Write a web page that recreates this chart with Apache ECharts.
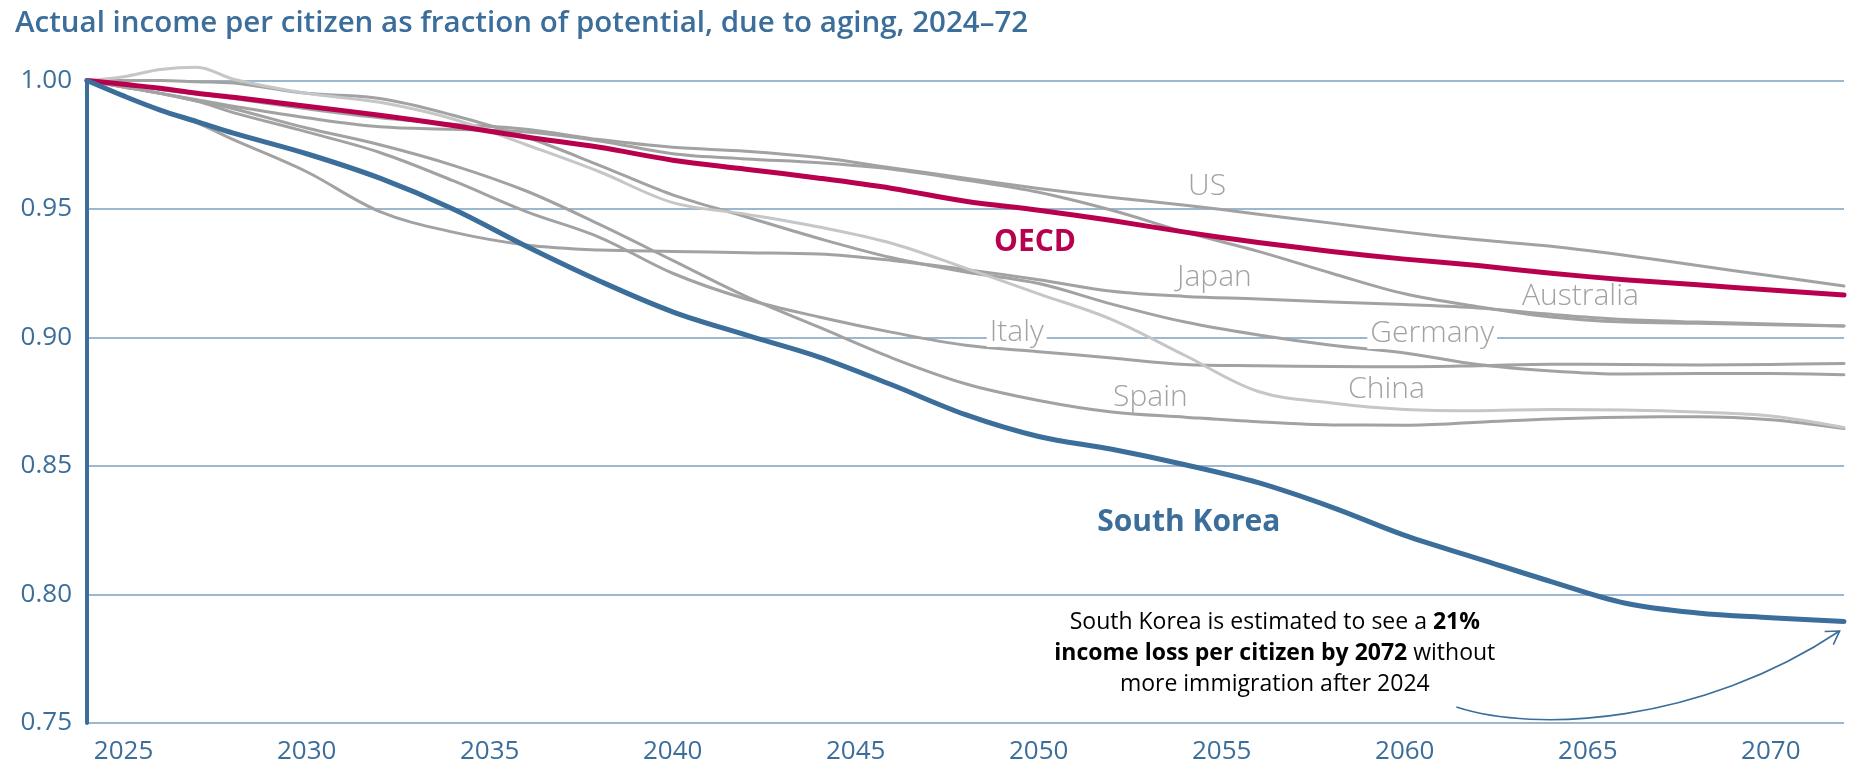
<!DOCTYPE html>
<html><head><meta charset="utf-8">
<script src="https://cdn.jsdelivr.net/npm/echarts@6/dist/echarts.min.js"></script>
<style>html,body{margin:0;padding:0;background:#fff}#c{width:1862px;height:780px}</style>
</head><body><div id="c"></div>
<script>
// ---- data ----
const years = [2024,2025,2026,2027,2028,2030,2032,2034,2036,2038,2040,2042,2044,2046,2048,2050,2052,2054,2056,2058,2060,2062,2064,2066,2068,2070,2072];
const southKorea = [1.000,0.994,0.9885,0.984,0.9795,0.9715,0.962,0.950,0.9355,0.922,0.910,0.901,0.8924,0.8815,0.870,0.8615,0.8565,0.8505,0.8435,0.834,0.823,0.814,0.805,0.7967,0.7928,0.791,0.7895];
const oecd = [1.000,0.9985,0.997,0.995,0.9935,0.990,0.9865,0.9825,0.978,0.974,0.969,0.9655,0.962,0.958,0.953,0.9495,0.9455,0.941,0.937,0.9335,0.9305,0.928,0.925,0.9225,0.9205,0.9185,0.9165];
const us = [1.000,0.9985,0.9965,0.9948,0.993,0.989,0.9855,0.983,0.981,0.977,0.974,0.9725,0.970,0.966,0.962,0.958,0.9545,0.9515,0.948,0.9445,0.941,0.938,0.9355,0.932,0.928,0.924,0.920];
const australia = [1.000,0.9975,0.995,0.9925,0.990,0.9855,0.982,0.981,0.980,0.9765,0.9715,0.9695,0.968,0.9655,0.9613,0.9565,0.9495,0.941,0.9335,0.925,0.917,0.912,0.908,0.906,0.9055,0.905,0.9045];
const japan = [1.000,0.994,0.9885,0.9835,0.977,0.9645,0.949,0.941,0.936,0.934,0.9335,0.933,0.9325,0.930,0.9265,0.9225,0.918,0.916,0.915,0.9138,0.9128,0.9115,0.909,0.907,0.906,0.9053,0.9045];
const germany = [1.000,1.000,1.000,0.9995,0.999,0.995,0.993,0.9865,0.978,0.967,0.9555,0.947,0.9385,0.931,0.9255,0.921,0.913,0.906,0.901,0.897,0.894,0.8895,0.887,0.8858,0.886,0.886,0.8855];
const italy = [1.000,0.9975,0.995,0.992,0.9875,0.980,0.972,0.961,0.949,0.939,0.925,0.915,0.908,0.902,0.897,0.8945,0.892,0.8895,0.889,0.8887,0.8886,0.889,0.8896,0.8895,0.8893,0.8895,0.8899];
const spain = [1.000,0.9975,0.995,0.992,0.989,0.9815,0.975,0.967,0.957,0.944,0.930,0.916,0.904,0.892,0.882,0.8755,0.871,0.869,0.8672,0.866,0.8659,0.867,0.8683,0.869,0.8692,0.868,0.8646];
const china = [1.000,1.0015,1.0043,1.0052,1.0005,0.995,0.9915,0.985,0.975,0.9645,0.9525,0.948,0.943,0.9366,0.927,0.917,0.907,0.893,0.879,0.8745,0.872,0.8715,0.872,0.8718,0.871,0.8695,0.865];
const xTickLabels = [2025,2030,2035,2040,2045,2050,2055,2060,2065,2070];
const yMin = 0.75, yMax = 1.00, yStep = 0.05;
const titleText = 'Actual income per citizen as fraction of potential, due to aging, 2024\u201372';
const noteText = ['{n|South Korea is estimated to see a }{b|21%}', '{b|income loss per citizen by 2072}{n| without}', '{n|more immigration after 2024}'];

// ---- styling ----
const FONT = '"Open Sans", Lato, sans-serif';
const BLUE = '#3b6e9b', RED = '#b8004f', GRAY = '#a2a2a2', LIGHT = '#c6c6c6', GRID = '#9cb7ce';

const seriesDefs = [
  {name:'US', values: us, color: GRAY, width: 3},
  {name:'Australia', values: australia, color: GRAY, width: 3},
  {name:'Japan', values: japan, color: GRAY, width: 3},
  {name:'Germany', values: germany, color: GRAY, width: 3},
  {name:'Italy', values: italy, color: GRAY, width: 3},
  {name:'Spain', values: spain, color: GRAY, width: 3},
  {name:'China', values: china, color: LIGHT, width: 3},
  {name:'OECD', values: oecd, color: RED, width: 5},
  {name:'South Korea', values: southKorea, color: BLUE, width: 5}
];

// label anchors in data space
const labelDefs = [
  {text:'US', at:[2054.6,0.9586], kind:'g'},
  {text:'OECD', at:[2049.9,0.9368], kind:'oecd'},
  {text:'Japan', at:[2054.8,0.9232], kind:'g'},
  {text:'Italy', at:[2049.4,0.9021], kind:'gbg'},
  {text:'Germany', at:[2060.75,0.9014], kind:'gbg'},
  {text:'Australia', at:[2064.8,0.9158], kind:'g'},
  {text:'Spain', at:[2053.05,0.8768], kind:'g'},
  {text:'China', at:[2059.5,0.8796], kind:'g'},
  {text:'South Korea', at:[2054.1,0.8282], kind:'sk'}
];
const noteAt = [2056.45, 0.7772];
const arrowPts = [[2061.41,0.7562],[2063.57,0.7461],[2068.07,0.7496],[2071.88,0.7858]];

const chart = echarts.init(document.getElementById('c'));
const option = {
  animation: false,
  backgroundColor: '#fff',
  title: {
    text: titleText, left: 10, top: 4,
    textStyle: {fontFamily: FONT, fontSize: 29.5, fontWeight: 600, color: BLUE}
  },
  grid: {left: 87, right: 18, top: 80.5, bottom: 57, containLabel: false, outerBoundsMode: 'none'},
  xAxis: {
    type: 'value', min: 2024, max: 2072,
    axisLine: {show: false}, axisTick: {show: false}, splitLine: {show: false},
    axisLabel: {customValues: xTickLabels, color: BLUE, fontSize: 26, fontFamily: FONT, margin: 16, formatter: v => String(v)}
  },
  yAxis: {
    type: 'value', min: yMin, max: yMax, interval: yStep,
    axisLine: {show: true, lineStyle: {color: BLUE, width: 4}},
    axisTick: {show: false},
    splitLine: {show: true, lineStyle: {color: GRID, width: 2}},
    axisLabel: {color: BLUE, fontSize: 26, fontFamily: FONT, margin: 15, formatter: v => v.toFixed(2)}
  },
  series: seriesDefs.map((s, i) => ({
    name: s.name, type: 'line', data: years.map((y, j) => [y, s.values[j]]),
    smooth: 0.35, showSymbol: false, clip: false, z: 2 + i,
    lineStyle: {color: s.color, width: s.width, cap: 'round', join: 'round'},
    emphasis: {disabled: true}
  }))
};
chart.setOption(option);

function px(p){ return chart.convertToPixel({gridIndex: 0}, p); }
const graphics = [];
labelDefs.forEach(l => {
  const [x, y] = px(l.at);
  const st = {text: l.text, x, y, align: 'center', verticalAlign: 'middle', fontFamily: FONT};
  if (l.kind === 'oecd') Object.assign(st, {fill: RED, fontSize: 30, fontWeight: 'bold'});
  else if (l.kind === 'sk') Object.assign(st, {fill: BLUE, fontSize: 30, fontWeight: 'bold'});
  else Object.assign(st, {fill: GRAY, fontSize: 30, fontWeight: 300});
  if (l.kind === 'gbg') Object.assign(st, {backgroundColor: '#fff', padding: [0, 3, 0, 3]});
  graphics.push({type: 'text', z: 50, style: st});
});
const np = px(noteAt);
graphics.push({type: 'text', z: 50, style: {
  text: noteText.join('\n'), x: np[0], y: np[1], align: 'center', verticalAlign: 'middle',
  rich: {
    n: {fontFamily: FONT, fontSize: 23, color: '#1c2a38', lineHeight: 31},
    b: {fontFamily: FONT, fontSize: 23, color: '#1c2a38', fontWeight: 'bold', lineHeight: 31}
  }
}});
const a = arrowPts.map(px);
graphics.push({type: 'bezierCurve', z: 50, shape: {x1: a[0][0], y1: a[0][1], cpx1: a[1][0], cpy1: a[1][1], cpx2: a[2][0], cpy2: a[2][1], x2: a[3][0], y2: a[3][1]},
  style: {stroke: BLUE, lineWidth: 1.6, fill: null}});
// arrow head
const dx = a[3][0] - a[2][0], dy = a[3][1] - a[2][1], L = Math.hypot(dx, dy);
const ux = -dx / L, uy = -dy / L, ang = 0.55, len = 15;
function rot(x, y, t){ return [x*Math.cos(t) - y*Math.sin(t), x*Math.sin(t) + y*Math.cos(t)]; }
const r1 = rot(ux, uy, ang), r2 = rot(ux, uy, -ang);
graphics.push({type: 'polyline', z: 50, shape: {points: [[a[3][0] + r1[0]*len, a[3][1] + r1[1]*len], a[3], [a[3][0] + r2[0]*len, a[3][1] + r2[1]*len]]},
  style: {stroke: BLUE, lineWidth: 1.6, fill: null}});
chart.setOption({graphic: graphics});
</script>
</body></html>
